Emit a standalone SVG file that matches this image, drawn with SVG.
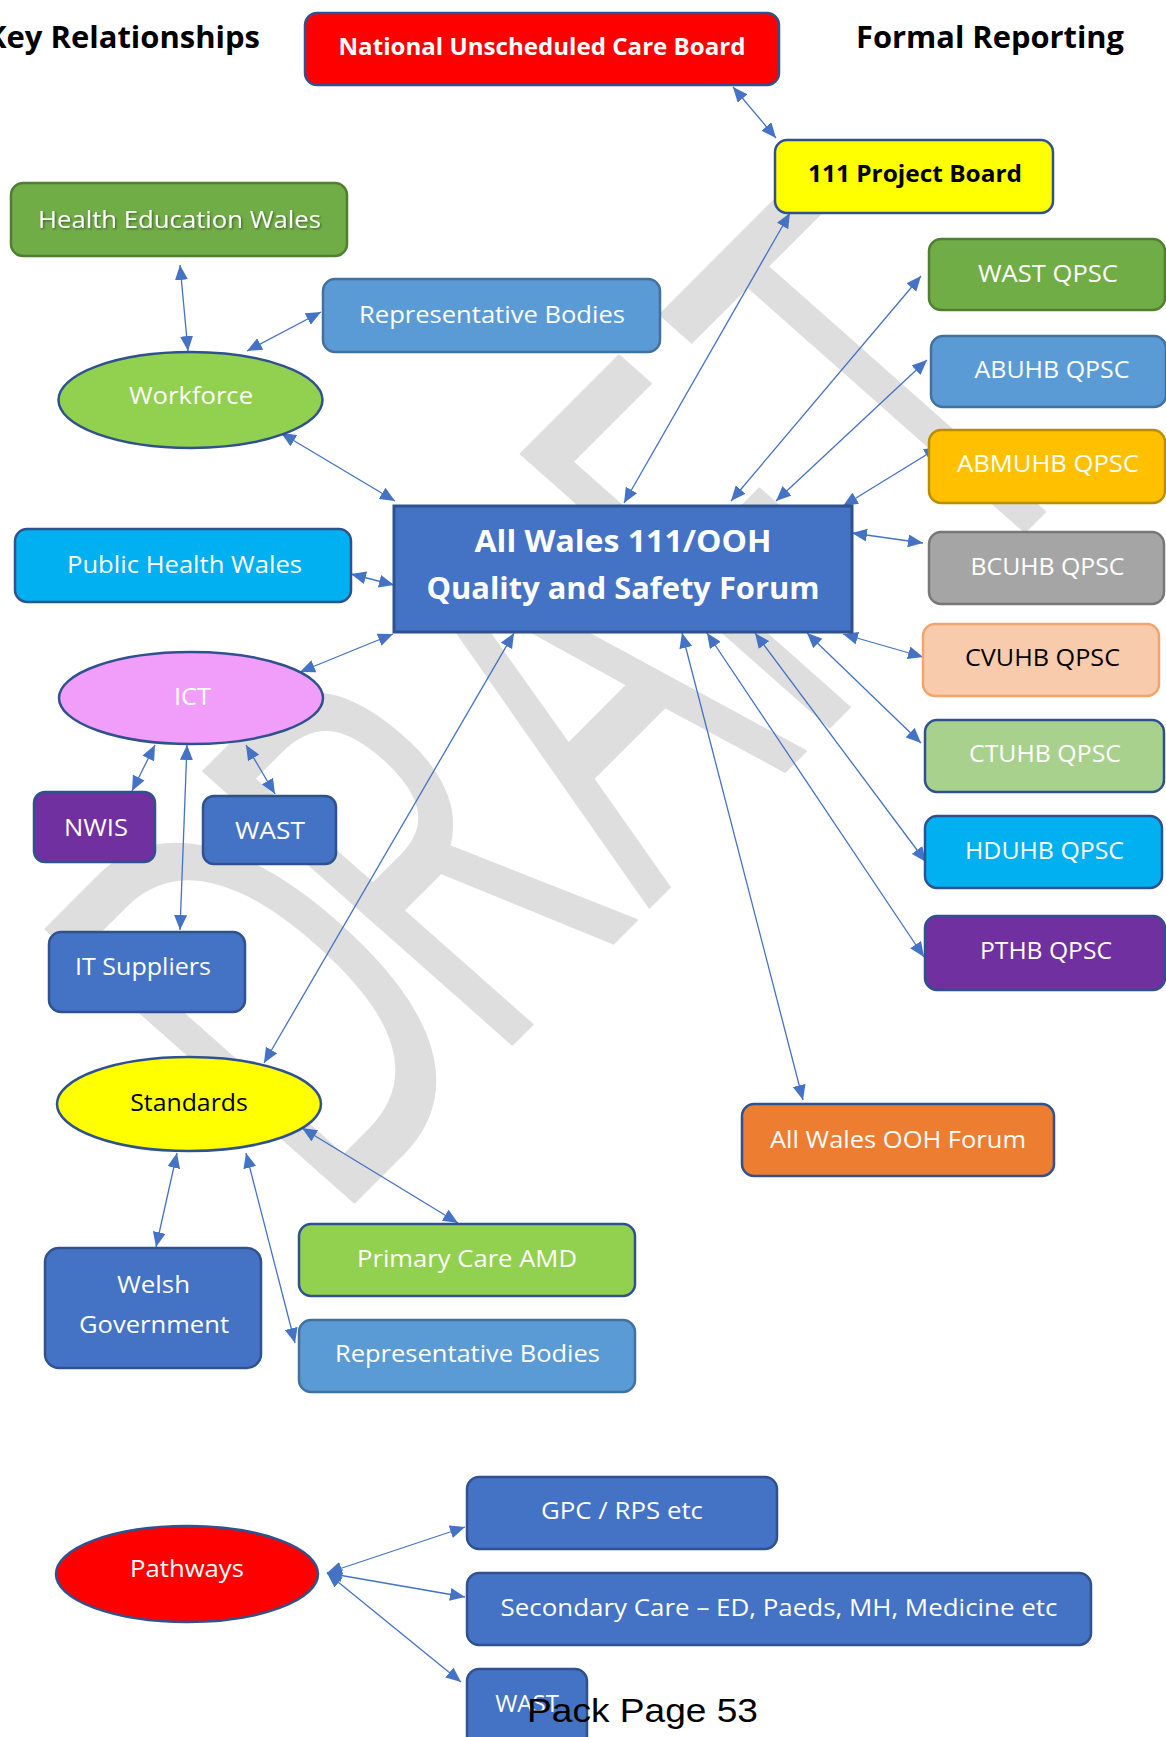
<svg xmlns="http://www.w3.org/2000/svg" width="1166" height="1737" viewBox="0 0 1166 1737">
<style>
text{font-family:"Open Sans","Liberation Sans",sans-serif;}
.lbl{font-size:24px;fill:#fff;text-anchor:middle;}
.dark{fill:#000;}
.b{font-weight:bold;}
.node{stroke-width:2.5;}
.conn line{stroke:#4472C4;stroke-width:1.3;marker-start:url(#ah);marker-end:url(#ah);}
</style>
<defs>
<marker id="ah" markerUnits="userSpaceOnUse" markerWidth="15" markerHeight="13" refX="15" refY="6.5" orient="auto-start-reverse">
<path d="M0,0 L15,6.5 L0,13 z" fill="#4472C4"/>
</marker>
<filter id="tshadow" x="-10%" y="-30%" width="120%" height="160%">
<feDropShadow dx="1.2" dy="1.2" stdDeviation="0.8" flood-color="#000" flood-opacity="0.45"/>
</filter>
</defs>
<rect width="1166" height="1737" fill="#fff"/>
<g id="watermark">
<text transform="translate(778.5,778.5) rotate(-45) skewX(3.5) scale(0.61,1)" font-size="577" x="-1040 -674 -300 61.8 436" y="0" fill="#DEDEDE" stroke="#DEDEDE" stroke-width="2" stroke-linejoin="round">DRAFT</text>
</g>
<g id="titles">
<text x="-14" y="48" font-size="30" class="b" textLength="274" lengthAdjust="spacingAndGlyphs">Key Relationships</text>
<text x="856" y="48" font-size="30" class="b" textLength="268" lengthAdjust="spacingAndGlyphs">Formal Reporting</text>
</g>
<g class="conn" id="connectors">
<line x1="733" y1="87" x2="776" y2="138"/>
<line x1="790" y1="213" x2="624" y2="503"/>
<line x1="921" y1="276" x2="731" y2="501"/>
<line x1="927" y1="360" x2="776" y2="501"/>
<line x1="939" y1="447" x2="843" y2="506"/>
<line x1="852" y1="533" x2="923" y2="543"/>
<line x1="843" y1="634" x2="923" y2="657"/>
<line x1="807" y1="633" x2="921" y2="743"/>
<line x1="755" y1="633" x2="926" y2="862"/>
<line x1="707" y1="633" x2="924" y2="957"/>
<line x1="682" y1="633" x2="803" y2="1100"/>
<line x1="514" y1="633" x2="264" y2="1063"/>
<line x1="393" y1="634" x2="300" y2="672"/>
<line x1="351" y1="574" x2="394" y2="585"/>
<line x1="281" y1="433" x2="395" y2="501"/>
<line x1="180" y1="265" x2="188" y2="351"/>
<line x1="321" y1="312" x2="247" y2="351"/>
<line x1="155" y1="745" x2="132" y2="791"/>
<line x1="187" y1="745" x2="180" y2="930"/>
<line x1="246" y1="745" x2="275" y2="794"/>
<line x1="177" y1="1153" x2="156" y2="1247"/>
<line x1="246" y1="1153" x2="295" y2="1343"/>
<line x1="302" y1="1128" x2="458" y2="1223"/>
<line x1="327" y1="1573" x2="465" y2="1527"/>
<line x1="327" y1="1573" x2="465" y2="1597"/>
<line x1="327" y1="1573" x2="461" y2="1682"/>
</g>
<g id="nucb"><rect class="node" x="305" y="13" width="474" height="72" rx="12" fill="#FF0000" stroke="#2F528F"/><text class="lbl b" x="542" y="55" textLength="407" lengthAdjust="spacingAndGlyphs">National Unscheduled Care Board</text></g>
<g id="pb111"><rect class="node" x="775" y="140" width="278" height="73" rx="12" fill="#FFFF00" stroke="#2F528F"/><text class="lbl b dark" x="915" y="182" textLength="214" lengthAdjust="spacingAndGlyphs">111 Project Board</text></g>
<g id="hew"><rect class="node" x="11" y="183" width="336" height="73" rx="12" fill="#70AD47" stroke="#507E32"/><text class="lbl" x="179.5" y="228" textLength="283" lengthAdjust="spacingAndGlyphs" filter="url(#tshadow)">Health Education Wales</text></g>
<g id="repTop"><rect class="node" x="323" y="279" width="337" height="73" rx="12" fill="#5B9BD5" stroke="#41719C"/><text class="lbl" x="492" y="323" textLength="266" lengthAdjust="spacingAndGlyphs">Representative Bodies</text></g>
<g id="workforce"><ellipse class="node" cx="190.5" cy="400" rx="132" ry="48" fill="#92D050" stroke="#2F528F"/><text class="lbl" x="191" y="404" textLength="124" lengthAdjust="spacingAndGlyphs">Workforce</text></g>
<g id="forum"><rect x="394" y="506" width="458" height="126" fill="#4472C4" stroke="#2F528F" stroke-width="3"/><text class="lbl b" x="623" y="552" textLength="297" lengthAdjust="spacingAndGlyphs" style="font-size:31px">All Wales 111/OOH</text><text class="lbl b" x="623" y="599" textLength="393" lengthAdjust="spacingAndGlyphs" style="font-size:31px">Quality and Safety Forum</text></g>
<g id="phw"><rect class="node" x="15" y="529" width="336" height="73" rx="12" fill="#00B0F0" stroke="#2F528F"/><text class="lbl" x="184.5" y="573" textLength="235" lengthAdjust="spacingAndGlyphs">Public Health Wales</text></g>
<g id="ict"><ellipse class="node" cx="191" cy="698" rx="132" ry="46" fill="#F09EF9" stroke="#2F528F"/><text class="lbl" x="192.5" y="705" textLength="37" lengthAdjust="spacingAndGlyphs">ICT</text></g>
<g id="nwis"><rect class="node" x="34" y="792" width="121" height="70" rx="11" fill="#7030A0" stroke="#2F528F"/><text class="lbl" x="96" y="836" textLength="64" lengthAdjust="spacingAndGlyphs">NWIS</text></g>
<g id="wastIct"><rect class="node" x="203" y="796" width="133" height="68" rx="11" fill="#4472C4" stroke="#2F528F"/><text class="lbl" x="270" y="839" textLength="70" lengthAdjust="spacingAndGlyphs">WAST</text></g>
<g id="itsup"><rect class="node" x="49" y="932" width="196" height="80" rx="12" fill="#4472C4" stroke="#2F528F"/><text class="lbl" x="143" y="975" textLength="136" lengthAdjust="spacingAndGlyphs">IT Suppliers</text></g>
<g id="standards"><ellipse class="node" cx="189" cy="1104" rx="132" ry="47" fill="#FFFF00" stroke="#2F528F"/><text class="lbl dark" x="189" y="1110.5" textLength="117.5" lengthAdjust="spacingAndGlyphs">Standards</text></g>
<g id="welshgov"><rect class="node" x="45" y="1248" width="216" height="120" rx="14" fill="#4472C4" stroke="#2F528F"/><text class="lbl" x="153.5" y="1293" textLength="73" lengthAdjust="spacingAndGlyphs">Welsh</text><text class="lbl" x="154" y="1333" textLength="150" lengthAdjust="spacingAndGlyphs">Government</text></g>
<g id="pcamd"><rect class="node" x="299" y="1224" width="336" height="72" rx="12" fill="#92D050" stroke="#2F528F"/><text class="lbl" x="467" y="1267" textLength="220" lengthAdjust="spacingAndGlyphs">Primary Care AMD</text></g>
<g id="repBottom"><rect class="node" x="299" y="1320" width="336" height="72" rx="12" fill="#5B9BD5" stroke="#41719C"/><text class="lbl" x="467.5" y="1362" textLength="265" lengthAdjust="spacingAndGlyphs">Representative Bodies</text></g>
<g id="wastqpsc"><rect class="node" x="929" y="239" width="236" height="71" rx="12" fill="#70AD47" stroke="#507E32"/><text class="lbl" x="1048" y="282" textLength="140" lengthAdjust="spacingAndGlyphs">WAST QPSC</text></g>
<g id="abuhb"><rect class="node" x="931" y="336" width="235" height="71" rx="12" fill="#5B9BD5" stroke="#41719C"/><text class="lbl" x="1052" y="378" textLength="155" lengthAdjust="spacingAndGlyphs">ABUHB QPSC</text></g>
<g id="abmuhb"><rect class="node" x="929" y="430" width="236" height="73" rx="12" fill="#FFC000" stroke="#BC8C00"/><text class="lbl" x="1048" y="472" textLength="182" lengthAdjust="spacingAndGlyphs">ABMUHB QPSC</text></g>
<g id="bcuhb"><rect class="node" x="929" y="532" width="235" height="72" rx="12" fill="#A5A5A5" stroke="#787878"/><text class="lbl" x="1047.5" y="575" textLength="154" lengthAdjust="spacingAndGlyphs">BCUHB QPSC</text></g>
<g id="cvuhb"><rect class="node" x="923" y="624" width="236" height="72" rx="12" fill="#F8CBAD" stroke="#F4A36B" stroke-width="2"/><text class="lbl dark" x="1042.5" y="666" textLength="155" lengthAdjust="spacingAndGlyphs">CVUHB QPSC</text></g>
<g id="ctuhb"><rect class="node" x="925" y="720" width="239" height="72" rx="12" fill="#A9D18E" stroke="#2F528F"/><text class="lbl" x="1045" y="762" textLength="152" lengthAdjust="spacingAndGlyphs">CTUHB QPSC</text></g>
<g id="hduhb"><rect class="node" x="925" y="816" width="237" height="72" rx="12" fill="#00B0F0" stroke="#2F528F"/><text class="lbl" x="1044.5" y="858.5" textLength="159" lengthAdjust="spacingAndGlyphs">HDUHB QPSC</text></g>
<g id="pthb"><rect class="node" x="925" y="916" width="240" height="74" rx="12" fill="#7030A0" stroke="#2F528F"/><text class="lbl" x="1046" y="958.5" textLength="132" lengthAdjust="spacingAndGlyphs">PTHB QPSC</text></g>
<g id="oohforum"><rect class="node" x="742" y="1104" width="312" height="72" rx="12" fill="#ED7D31" stroke="#2F528F"/><text class="lbl" x="898" y="1147.5" textLength="256" lengthAdjust="spacingAndGlyphs">All Wales OOH Forum</text></g>
<g id="pathways"><ellipse class="node" cx="187" cy="1574" rx="131" ry="48" fill="#FF0000" stroke="#2F528F"/><text class="lbl" x="187" y="1577" textLength="114" lengthAdjust="spacingAndGlyphs">Pathways</text></g>
<g id="gpc"><rect class="node" x="467" y="1477" width="310" height="72" rx="12" fill="#4472C4" stroke="#2F528F"/><text class="lbl" x="622" y="1519" textLength="162" lengthAdjust="spacingAndGlyphs">GPC / RPS etc</text></g>
<g id="secondary"><rect class="node" x="467" y="1573" width="624" height="72" rx="12" fill="#4472C4" stroke="#2F528F"/><text class="lbl" x="779" y="1616" textLength="557" lengthAdjust="spacingAndGlyphs">Secondary Care – ED, Paeds, MH, Medicine etc</text></g>
<g id="wastBottom"><rect class="node" x="467" y="1669" width="120" height="90" rx="12" fill="#4472C4" stroke="#2F528F"/><text class="lbl" x="527" y="1712">WAST</text></g>
<g id="footer"><text x="527" y="1722" font-size="34" style="font-family:'Liberation Sans',Arial,sans-serif" textLength="231" lengthAdjust="spacingAndGlyphs">Pack Page 53</text></g>
</svg>
